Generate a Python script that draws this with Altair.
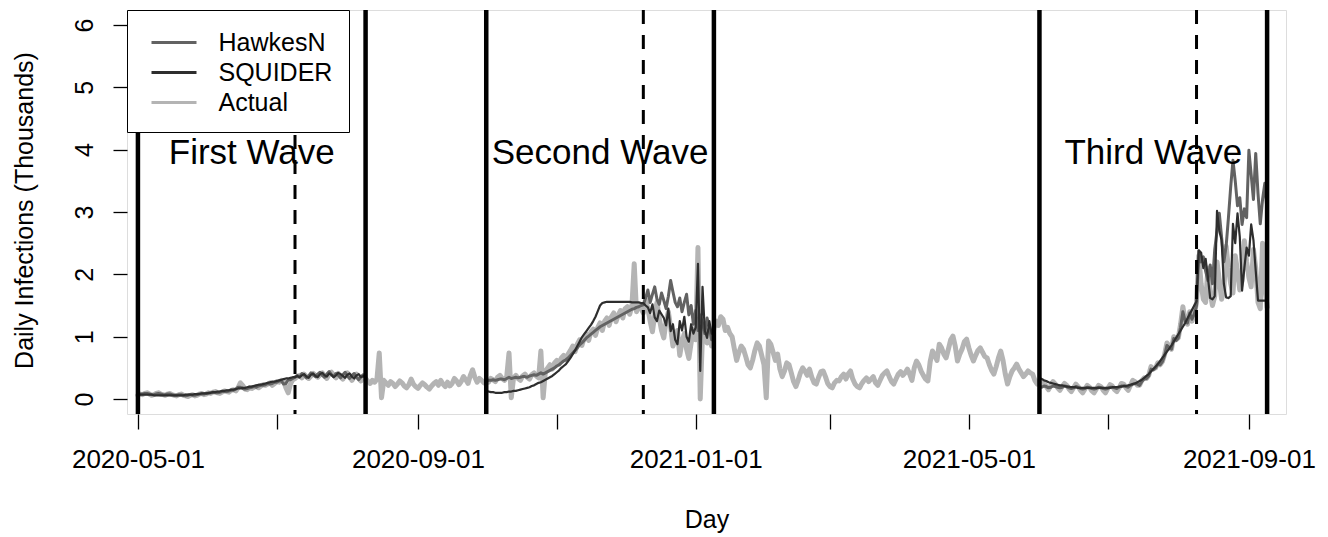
import altair as alt
import pandas as pd

FONT = "Liberation Sans"
START = pd.Timestamp("2020-05-01")

# Daily reported infections (thousands), one value per day from 2020-05-01 to 2021-09-09
actual = [
    # 2020-05-01 .. 2020-08-09 (first wave)
    0.06, 0.08, 0.07, 0.09, 0.10, 0.08, 0.06, 0.07, 0.09, 0.10,
    0.08, 0.07, 0.06, 0.08, 0.09, 0.07, 0.06, 0.05, 0.07, 0.08,
    0.06, 0.05, 0.04, 0.06, 0.07, 0.05, 0.06, 0.08, 0.09, 0.07,
    0.08, 0.10, 0.09, 0.11, 0.12, 0.10, 0.09, 0.11, 0.13, 0.12,
    0.11, 0.14, 0.15, 0.13, 0.18, 0.26, 0.22, 0.16, 0.15, 0.18,
    0.17, 0.19, 0.20, 0.18, 0.21, 0.23, 0.22, 0.24, 0.26, 0.22,
    0.25, 0.28, 0.27, 0.30, 0.29, 0.18, 0.10, 0.24, 0.31, 0.33,
    0.36, 0.38, 0.34, 0.40, 0.36, 0.33, 0.37, 0.41, 0.38, 0.35,
    0.39, 0.42, 0.37, 0.33, 0.40, 0.43, 0.38, 0.34, 0.41, 0.36,
    0.32, 0.38, 0.42, 0.35, 0.30, 0.36, 0.40, 0.33, 0.29, 0.35,
    0.33,
    # between first and second wave
    0.28, 0.25, 0.30, 0.27, 0.32, 0.74, 0.02, 0.30, 0.26, 0.22,
    0.28, 0.25, 0.20, 0.24, 0.29, 0.26, 0.21, 0.18, 0.23, 0.32,
    0.24, 0.20, 0.17, 0.22, 0.26, 0.23, 0.19, 0.16, 0.21, 0.25,
    0.28, 0.22, 0.30, 0.24, 0.20, 0.27, 0.21, 0.25, 0.33, 0.29,
    0.23, 0.28, 0.36, 0.31, 0.25, 0.38, 0.47, 0.35, 0.27, 0.33,
    0.30, 0.26,
    # 2020-10-01 .. 2021-01-09 (second wave)
    0.30, 0.27, 0.33, 0.31, 0.28, 0.35, 0.38, 0.33, 0.30, 0.36,
    0.74, 0.02, 0.34, 0.38, 0.33, 0.30, 0.37, 0.40, 0.35, 0.32,
    0.39, 0.42, 0.37, 0.34, 0.77, 0.02, 0.45, 0.50, 0.55, 0.48,
    0.58, 0.62, 0.56, 0.66, 0.70, 0.63, 0.72, 0.78, 0.85, 0.76,
    0.88, 0.95, 0.86, 0.98, 1.04, 0.94, 1.08, 1.12, 1.02, 1.15,
    1.22, 1.10, 1.25, 1.30, 1.18, 1.32, 1.38, 1.24, 1.35, 1.42,
    1.30, 1.45, 1.48, 1.36, 1.50, 2.17, 1.40, 1.52, 1.45, 1.38,
    1.60, 1.45, 1.25, 1.08, 1.35, 1.55, 1.30, 1.10, 0.98, 1.25,
    1.40, 1.15, 0.85, 0.95, 1.10, 0.70, 0.92, 1.05, 0.80, 0.65,
    0.90, 1.12, 0.95, 2.43, 0.00, 1.05, 1.15, 0.90, 1.10, 0.85,
    1.14,
    # between second and third wave
    1.25, 1.18, 1.32, 1.28, 1.10, 1.15, 1.05, 1.00, 0.80, 0.62,
    0.75, 0.85, 0.80, 0.68, 0.55, 0.50, 0.62, 0.78, 0.90, 0.85,
    0.70, 0.55, 0.02, 0.93, 0.88, 0.75, 0.62, 0.72, 0.48, 0.36,
    0.45, 0.58, 0.55, 0.42, 0.28, 0.20, 0.30, 0.42, 0.50, 0.45,
    0.38, 0.48, 0.35, 0.26, 0.24, 0.35, 0.44, 0.45, 0.36, 0.25,
    0.20, 0.18, 0.26, 0.30, 0.29, 0.36, 0.40, 0.32, 0.40, 0.45,
    0.32, 0.24, 0.20, 0.18, 0.25, 0.30, 0.34, 0.28, 0.32, 0.36,
    0.26, 0.22, 0.30, 0.38, 0.42, 0.45, 0.36, 0.28, 0.24, 0.32,
    0.40, 0.44, 0.38, 0.42, 0.48, 0.40, 0.30, 0.50, 0.61, 0.55,
    0.45, 0.38, 0.32, 0.29, 0.60, 0.77, 0.70, 0.62, 0.88, 0.82,
    0.72, 0.66, 0.80, 0.95, 1.01, 0.85, 0.61, 0.72, 0.80, 0.92,
    0.96, 0.82, 0.70, 0.61, 0.70, 0.78, 0.82, 0.75, 0.68, 0.66,
    0.55, 0.46, 0.40, 0.52, 0.66, 0.77, 0.62, 0.40, 0.24, 0.36,
    0.45, 0.50, 0.56, 0.48, 0.42, 0.36, 0.40, 0.45, 0.42, 0.40,
    0.30, 0.24,
    # 2021-06-01 .. 2021-09-09 (third wave)
    0.30, 0.22, 0.26, 0.20, 0.15, 0.22, 0.28, 0.24, 0.18, 0.14,
    0.20, 0.25, 0.22, 0.16, 0.12, 0.18, 0.24, 0.20, 0.14, 0.10,
    0.16, 0.22, 0.19, 0.13, 0.10, 0.16, 0.22, 0.20, 0.14, 0.10,
    0.17, 0.23, 0.21, 0.15, 0.12, 0.18, 0.25, 0.24, 0.18, 0.14,
    0.22, 0.30, 0.28, 0.22, 0.22, 0.30, 0.34, 0.33, 0.38, 0.52,
    0.48, 0.50, 0.58, 0.55, 0.60, 0.72, 0.90, 0.85, 0.80, 1.00,
    0.95, 0.98, 1.20, 1.48, 1.25, 1.20, 1.40, 1.25, 1.35, 1.55,
    2.30, 1.85, 1.60, 1.55, 2.10, 1.70, 1.50, 1.65, 2.20, 1.90,
    1.60, 1.75, 2.45, 2.10, 1.85, 1.70, 2.30, 2.05, 1.75, 1.90,
    2.54, 2.20, 1.95, 1.80, 2.40, 2.10, 1.55, 1.45, 2.50, 1.85,
    1.47,
]

# Wave boundaries and the start of each forecast window
wave_starts = ["2020-05-01", "2020-10-01", "2021-06-01"]
wave_ends = ["2020-08-09", "2021-01-09", "2021-09-09"]
forecast_starts = ["2020-07-09", "2020-12-09", "2021-08-09"]
wave_names = ["First Wave", "Second Wave", "Third Wave"]

# HawkesN fit + forecast, one value per day of each wave
hawkes = [
    [0.06, 0.08, 0.08, 0.09, 0.09, 0.08, 0.07, 0.07, 0.08, 0.09,
     0.08, 0.07, 0.07, 0.08, 0.08, 0.07, 0.06, 0.06, 0.07, 0.07,
     0.06, 0.05, 0.06, 0.07, 0.06, 0.06, 0.07, 0.08, 0.08, 0.08,
     0.09, 0.09, 0.10, 0.11, 0.10, 0.10, 0.11, 0.12, 0.12, 0.12,
     0.13, 0.14, 0.14, 0.16, 0.19, 0.19, 0.17, 0.16, 0.17, 0.18,
     0.19, 0.20, 0.19, 0.21, 0.22, 0.22, 0.23, 0.25, 0.24, 0.25,
     0.27, 0.27, 0.29, 0.29, 0.24, 0.25, 0.31, 0.31, 0.33, 0.35,
     0.38, 0.35, 0.41, 0.38, 0.34, 0.37, 0.42, 0.39, 0.36, 0.40,
     0.43, 0.38, 0.35, 0.40, 0.44, 0.39, 0.36, 0.41, 0.38, 0.34,
     0.39, 0.43, 0.37, 0.33, 0.38, 0.41, 0.35, 0.31, 0.36, 0.39,
     0.35],
    [0.29, 0.30, 0.30, 0.31, 0.30, 0.31, 0.32, 0.32, 0.31, 0.33,
     0.35, 0.33, 0.34, 0.35, 0.34, 0.35, 0.36, 0.36, 0.35, 0.37,
     0.38, 0.39, 0.38, 0.40, 0.42, 0.40, 0.42, 0.44, 0.46, 0.48,
     0.50, 0.53, 0.55, 0.58, 0.61, 0.63, 0.66, 0.70, 0.74, 0.78,
     0.82, 0.87, 0.90, 0.94, 0.98, 1.01, 1.04, 1.07, 1.10, 1.13,
     1.16, 1.18, 1.20, 1.22, 1.24, 1.26, 1.28, 1.30, 1.32, 1.34,
     1.36, 1.38, 1.40, 1.42, 1.44, 1.45, 1.47, 1.48, 1.50, 1.51,
     1.62, 1.75, 1.55, 1.68, 1.80, 1.60, 1.52, 1.70, 1.58, 1.45,
     1.65, 1.90, 1.72, 1.55, 1.48, 1.62, 1.40, 1.55, 1.68, 1.35,
     1.50, 1.20, 1.42, 1.10, 1.35, 1.22, 1.05, 1.30, 1.15, 0.95,
     1.20],
    [0.20, 0.19, 0.21, 0.20, 0.18, 0.19, 0.21, 0.20, 0.19, 0.18,
     0.19, 0.21, 0.20, 0.18, 0.17, 0.18, 0.20, 0.19, 0.17, 0.16,
     0.17, 0.19, 0.18, 0.17, 0.16, 0.17, 0.19, 0.18, 0.17, 0.16,
     0.17, 0.19, 0.19, 0.18, 0.17, 0.19, 0.21, 0.21, 0.20, 0.19,
     0.22, 0.24, 0.25, 0.24, 0.22, 0.28, 0.32, 0.33, 0.37, 0.48,
     0.47, 0.50, 0.56, 0.55, 0.60, 0.70, 0.86, 0.83, 0.80, 0.97,
     0.94, 0.98, 1.15, 1.40, 1.25, 1.22, 1.38, 1.28, 1.36, 1.50,
     2.38, 2.20, 2.28, 2.05, 1.90, 2.15, 1.85, 2.40, 2.70, 2.98,
     2.60, 2.20, 2.45, 2.90, 3.40, 3.83, 3.50, 3.10, 3.23, 2.80,
     3.05, 2.91, 3.99, 3.60, 3.20, 3.94, 3.30, 2.81, 3.20, 3.46,
     3.00],
]

# SQUIDER fit + forecast, one value per day of each wave
squider = [
    [0.07, 0.07, 0.07, 0.07, 0.07, 0.07, 0.07, 0.06, 0.06, 0.06,
     0.06, 0.06, 0.06, 0.06, 0.06, 0.06, 0.06, 0.06, 0.06, 0.06,
     0.06, 0.07, 0.07, 0.07, 0.07, 0.08, 0.08, 0.08, 0.09, 0.09,
     0.09, 0.10, 0.10, 0.11, 0.11, 0.12, 0.12, 0.13, 0.13, 0.14,
     0.14, 0.15, 0.15, 0.16, 0.17, 0.17, 0.18, 0.18, 0.19, 0.20,
     0.20, 0.21, 0.22, 0.23, 0.23, 0.24, 0.25, 0.26, 0.27, 0.28,
     0.28, 0.29, 0.30, 0.31, 0.32, 0.33, 0.33, 0.34, 0.35, 0.35,
     0.37, 0.35, 0.38, 0.40, 0.36, 0.34, 0.39, 0.41, 0.37, 0.35,
     0.40, 0.42, 0.38, 0.36, 0.41, 0.39, 0.35, 0.38, 0.42, 0.40,
     0.37, 0.34, 0.39, 0.41, 0.36, 0.33, 0.38, 0.40, 0.35, 0.37,
     0.34],
    [0.13, 0.12, 0.11, 0.11, 0.10, 0.10, 0.10, 0.10, 0.11, 0.11,
     0.12, 0.12, 0.13, 0.13, 0.14, 0.15, 0.16, 0.17, 0.18, 0.19,
     0.21, 0.22, 0.24, 0.26, 0.27, 0.29, 0.31, 0.33, 0.35, 0.37,
     0.40, 0.43, 0.46, 0.50, 0.53, 0.56, 0.61, 0.66, 0.72, 0.78,
     0.85, 0.92, 0.99, 1.04, 1.09, 1.14, 1.19, 1.25, 1.32, 1.41,
     1.50, 1.54, 1.55, 1.56, 1.56, 1.56, 1.56, 1.56, 1.56, 1.56,
     1.56, 1.56, 1.56, 1.56, 1.55, 1.55, 1.55, 1.55, 1.54, 1.54,
     1.50, 1.47, 1.38, 1.52, 1.31, 1.25, 1.42, 1.36, 1.30, 1.18,
     1.45, 1.09, 1.20, 0.95, 0.88, 1.25, 1.10, 1.32, 1.00, 0.92,
     1.20, 1.05, 1.15, 2.17, 0.45, 1.80, 1.10, 0.98, 1.25, 1.05,
     1.10],
    [0.34, 0.32, 0.30, 0.29, 0.27, 0.26, 0.25, 0.24, 0.23, 0.22,
     0.22, 0.21, 0.20, 0.20, 0.19, 0.19, 0.19, 0.18, 0.18, 0.18,
     0.18, 0.18, 0.18, 0.18, 0.18, 0.18, 0.18, 0.18, 0.18, 0.18,
     0.18, 0.18, 0.19, 0.19, 0.19, 0.20, 0.20, 0.21, 0.21, 0.22,
     0.23, 0.24, 0.25, 0.27, 0.29, 0.31, 0.34, 0.37, 0.40, 0.44,
     0.48, 0.52, 0.56, 0.61, 0.66, 0.71, 0.76, 0.81, 0.86, 0.92,
     0.98, 1.04, 1.10, 1.16, 1.22, 1.29, 1.36, 1.43, 1.50, 1.57,
     2.38, 2.35, 2.10, 2.25, 1.95, 1.62, 1.60, 1.65, 3.02, 2.70,
     2.55, 1.85, 1.63, 1.62, 1.65, 2.81, 2.50, 2.98, 2.60, 1.74,
     2.10, 2.43, 2.30, 2.80, 2.55, 2.06, 1.58, 1.58, 1.58, 1.58,
     1.58],
]

series_names = ["HawkesN", "SQUIDER", "Actual"]
series_colors = ["#626262", "#2e2e2e", "#b4b4b4"]

tick_dates = ["2020-05-01", "2020-07-01", "2020-09-01", "2020-11-01", "2021-01-01",
              "2021-03-01", "2021-05-01", "2021-07-01", "2021-09-01"]
labelled_dates = ["2020-05-01", "2020-09-01", "2021-01-01", "2021-05-01", "2021-09-01"]
y_ticks = [0, 1, 2, 3, 4, 5, 6]


def day_of(date_str):
    return (pd.Timestamp(date_str) - START).days


# ---- tables -------------------------------------------------------------
actual_df = pd.DataFrame({"day": range(len(actual)), "value": actual, "series": "Actual", "wave": "all"})

model_rows = []
for name, waves in (("HawkesN", hawkes), ("SQUIDER", squider)):
    for w, values in enumerate(waves):
        d0 = day_of(wave_starts[w])
        for i, v in enumerate(values):
            model_rows.append({"day": d0 + i, "value": v, "series": name, "wave": wave_names[w]})
model_df = pd.DataFrame(model_rows)

solid_df = pd.DataFrame({"day": [day_of(d) for d in wave_starts + wave_ends]})
dashed_df = pd.DataFrame({"day": [day_of(d) for d in forecast_starts]})
label_df = pd.DataFrame({
    "day": [(day_of(a) + day_of(b)) / 2 for a, b in zip(wave_starts, wave_ends)],
    "y": [4] * 3,
    "label": wave_names,
})

tick_days = [day_of(d) for d in tick_dates]
label_expr = " : ".join(
    f"datum.value == {day_of(d)} ? '{d}'" for d in labelled_dates
) + " : ''"

# ---- scales & axes ------------------------------------------------------
x_scale = alt.Scale(domain=[-4.8, 504.3], nice=False, zero=False)
y_scale = alt.Scale(domain=[-0.24, 6.24], nice=False, zero=False)

x_axis = alt.Axis(
    values=tick_days, labelExpr=label_expr, title="Day",
    grid=False, domain=False, tickSize=15, tickColor="black", tickWidth=1.3,
    labelFont=FONT, labelFontSize=26, labelColor="black", labelPadding=17,
    labelFlush=False, labelOverlap=False, labelBaseline="top",
    titleFont=FONT, titleFontSize=25, titleFontWeight="normal", titleColor="black",
    titleY=105, titleBaseline="middle",
)
y_axis = alt.Axis(
    values=y_ticks, title="Daily Infections (Thousands)",
    grid=False, domain=False, tickSize=14, tickColor="black", tickWidth=1.3,
    labelFont=FONT, labelFontSize=25, labelColor="black", labelPadding=21,
    labelAngle=270, labelAlign="center", labelBaseline="alphabetic",
    titleFont=FONT, titleFontSize=25, titleFontWeight="normal", titleColor="black",
    titleAngle=270, titleX=-103, titleY=200, titleAlign="center", titleBaseline="middle",
)

# Legend swatch: a horizontal stroke 1.5x wider than the nominal symbol size
color = alt.Color(
    "series:N",
    scale=alt.Scale(domain=series_names, range=series_colors),
    legend=alt.Legend(
        title=None, orient="top-left", offset=0, zindex=1,
        symbolType="M-1.5,0H1.5", symbolSize=900, symbolStrokeWidth=3, symbolOffset=14.5,
        labelFont=FONT, labelFontSize=25, labelColor="black", labelOffset=28,
        padding=16, rowPadding=0, strokeColor="black", fillColor="white",
        cornerRadius=0,
    ),
)

X = alt.X("day:Q", scale=x_scale, axis=x_axis)
Y = alt.Y("value:Q", scale=y_scale, axis=y_axis)

actual_line = alt.Chart(actual_df).mark_line(
    strokeWidth=5, strokeJoin="round", strokeCap="round"
).encode(x=X, y=Y, color=color)

hawkes_line = alt.Chart(model_df).transform_filter(
    alt.datum.series == "HawkesN"
).mark_line(strokeWidth=3, strokeJoin="round", strokeCap="round").encode(
    x=X, y=Y, color=color, detail="wave:N"
)

squider_line = alt.Chart(model_df).transform_filter(
    alt.datum.series == "SQUIDER"
).mark_line(strokeWidth=2.2, strokeJoin="round", strokeCap="round").encode(
    x=X, y=Y, color=color, detail="wave:N"
)

solid_rules = alt.Chart(solid_df).mark_rule(color="black", strokeWidth=4.5).encode(x=X)
dashed_rules = alt.Chart(dashed_df).mark_rule(
    color="black", strokeWidth=3, strokeDash=[14, 11]
).encode(x=X)

wave_text = alt.Chart(label_df).mark_text(
    font=FONT, fontSize=35, color="black", align="center", baseline="middle", dy=3
).encode(x=X, y=alt.Y("y:Q", scale=y_scale, axis=y_axis), text="label:N")

chart = alt.layer(
    actual_line, hawkes_line, squider_line, solid_rules, dashed_rules, wave_text
).properties(
    width=1159, height=404,
    padding={"left": 127, "top": 10, "right": 42, "bottom": 123},
    autosize=alt.AutoSizeParams(type="none"),
).configure_view(
    stroke="black", strokeWidth=1.4
).configure(background="white")

chart.save("out.html", embed_options={"renderer": "svg", "actions": False})
